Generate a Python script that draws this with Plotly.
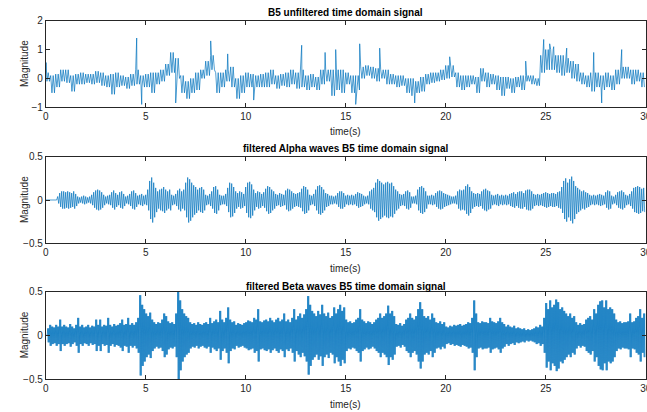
import plotly.graph_objects as go

# ---------------- data ----------------
# Unfiltered signal: band upper / lower level per 0.25 s block (0 .. 29.75 s)
raw_step = 0.25
raw_hi = [0.2, 0.1, 0.15, 0.3, 0.3, 0.1, 0.15, 0.2, 0.15, 0.15,
          0.25, 0.2, 0.1, 0.15, 0.2, 0.1, 0.05, 0.15, 0.3, 0.1,
          0.15, 0.2, 0.2, 0.3, 0.5, 0.9, 0.7, 0.1, -0.1, 0.0,
          0.2, 0.3, 0.6, 0.8, 0.2, 0.2, 0.3, 0.4, 0.0, 0.1,
          0.2, 0.15, 0.1, 0.15, 0.2, 0.3, 0.1, 0.15, 0.2, 0.3,
          0.2, 0.3, 0.1, 0.15, 0.05, 0.3, 0.3, 0.3, 0.3, 0.3,
          0.2, 0.1, 0.1, 0.4, 0.45, 0.4, 0.35, 0.3, 0.3, 0.15,
          0.1, 0.1, 0.0, 0.0, -0.1, 0.05, 0.15, 0.2, 0.2, 0.3,
          0.45, 0.45, 0.2, 0.1, 0.1, 0.1, 0.05, 0.35, 0.2, 0.15,
          0.1, 0.05, 0.05, 0.0, 0.05, 0.1, 0.1, 0.1, 0.0, 0.8,
          1.0, 1.0, 0.8, 0.8, 0.7, 0.6, 0.5, 0.2, 0.1, 0.2,
          0.2, 0.1, 0.2, 0.1, 0.3, 0.4, 0.4, 0.3, 0.3, 0.2]
raw_lo = [-0.1, -0.5, -0.3, -0.1, -0.15, -0.45, -0.2, -0.2, -0.15, -0.2,
          -0.15, -0.25, -0.3, -0.55, -0.3, -0.25, -0.35, -0.25, -0.2, -0.3,
          -0.3, -0.5, -0.2, -0.1, 0.1, 0.2, 0.0, -0.5, -0.7, -0.5,
          -0.4, 0.0, 0.1, 0.3, -0.5, -0.3, -0.1, -0.3, -0.7, -0.5,
          -0.3, -0.3, -0.3, -0.3, -0.3, -0.2, -0.35, -0.25, -0.3, -0.2,
          -0.35, -0.3, -0.4, -0.3, -0.4, -0.2, -0.1, -0.6, -0.4, -0.5,
          -0.2, -0.5, -0.4, 0.0, 0.1, 0.0, -0.1, 0.0, -0.2, -0.2,
          -0.3, -0.25, -0.5, -0.6, -0.5, -0.45, -0.2, -0.15, -0.1, -0.05,
          0.0, 0.05, -0.3, -0.4, -0.3, -0.2, -0.5, -0.1, -0.3, -0.2,
          -0.4, -0.6, -0.35, -0.5, -0.3, -0.4, -0.1, -0.2, -0.25, 0.2,
          0.3, 0.3, 0.2, 0.1, 0.2, 0.0, -0.1, -0.2, -0.3, -0.45,
          -0.3, -0.4, -0.3, -0.4, -0.2, 0.0, 0.0, -0.2, -0.1, -0.3]
# Unfiltered signal: isolated spikes (time in s, value)
raw_spike_t = [0.02, 4.55, 4.8, 6.5, 8.25, 9.1, 10.4, 12.8, 13.97, 14.5,
               15.5, 15.7, 16.7, 18.45, 20.2, 24.0, 24.9, 25.2, 25.4, 26.05,
               27.4, 27.8, 28.8]
raw_spike_v = [0.55, 1.4, -0.9, -0.85, 1.3, 0.85, -0.75, 1.15, 0.9, 1.0,
               -0.9, 1.2, 1.05, -0.85, 0.75, 0.6, 1.35, 1.2, 1.1, 1.05,
               0.9, -0.85, 1.0]

# Filtered alpha waves: oscillation amplitude per 0.1 s (0 .. 29.9 s)
filt_step = 0.1
alpha_amp = [0, 0, 0, 0, 0, 0,
             0.04, 0.08, 0.1, 0.1, 0.09, 0.1, 0.09, 0.08, 0.1, 0.07,
             0.04, 0.03, 0.04, 0.05, 0.04, 0.03, 0.04,
             0.06, 0.09, 0.11, 0.12, 0.11, 0.09, 0.06,
             0.04, 0.05, 0.06, 0.09, 0.11, 0.08, 0.06, 0.09, 0.1, 0.07,
             0.04, 0.05, 0.07, 0.1, 0.11, 0.08, 0.05, 0.06, 0.07, 0.05, 0.06,
             0.12, 0.22, 0.26, 0.2, 0.14, 0.1, 0.12,
             0.13, 0.15, 0.12, 0.1, 0.12, 0.06, 0.05, 0.07,
             0.11, 0.13, 0.1, 0.12,
             0.2, 0.26, 0.24, 0.2, 0.17, 0.15, 0.12, 0.14, 0.15, 0.12,
             0.06, 0.05, 0.07, 0.1, 0.15, 0.16, 0.12,
             0.06, 0.05, 0.05, 0.07, 0.14, 0.2, 0.19, 0.15,
             0.1, 0.08, 0.1, 0.09, 0.07,
             0.15, 0.2, 0.21, 0.18, 0.12, 0.08, 0.1, 0.09, 0.07, 0.09,
             0.13, 0.16, 0.15, 0.12, 0.1, 0.07, 0.06, 0.08, 0.07, 0.06,
             0.11, 0.13, 0.12, 0.1, 0.08, 0.07, 0.08, 0.09,
             0.13, 0.16, 0.15, 0.12, 0.06, 0.05, 0.07,
             0.12, 0.16, 0.17, 0.15, 0.12,
             0.08, 0.07, 0.05, 0.05, 0.04, 0.05, 0.08, 0.1, 0.1, 0.08,
             0.05, 0.06, 0.05, 0.06, 0.05, 0.07, 0.09, 0.08, 0.07,
             0.05, 0.04, 0.05, 0.1, 0.12, 0.14,
             0.2, 0.24, 0.22, 0.2, 0.18,
             0.2, 0.21, 0.19, 0.2, 0.16, 0.12, 0.1, 0.07, 0.06, 0.07,
             0.1, 0.11, 0.09, 0.04, 0.04, 0.05,
             0.12, 0.15, 0.16, 0.14, 0.1, 0.05, 0.05, 0.06, 0.05,
             0.08, 0.1, 0.11, 0.1, 0.08,
             0.07, 0.06, 0.05, 0.04, 0.04, 0.05, 0.1, 0.12, 0.11, 0.12,
             0.16, 0.18, 0.15, 0.1, 0.08, 0.07, 0.08, 0.07,
             0.1, 0.12, 0.13, 0.11, 0.1, 0.06, 0.05, 0.06, 0.07,
             0.05, 0.06, 0.05, 0.06, 0.05, 0.07, 0.08, 0.09, 0.07,
             0.09, 0.1, 0.1, 0.08,
             0.11, 0.12, 0.12, 0.1, 0.07, 0.06, 0.07, 0.06, 0.07,
             0.08, 0.09, 0.08, 0.07, 0.08, 0.08, 0.07, 0.09, 0.1,
             0.15, 0.22, 0.25, 0.2, 0.24, 0.27, 0.22, 0.16, 0.14, 0.12,
             0.1, 0.11, 0.09, 0.08, 0.06, 0.05, 0.06, 0.05,
             0.06, 0.07, 0.06, 0.05,
             0.09, 0.11, 0.1, 0.05, 0.04, 0.06,
             0.09, 0.1, 0.11, 0.09, 0.06, 0.05, 0.07,
             0.1, 0.14, 0.15, 0.16, 0.15, 0.13, 0.14]

# Filtered beta waves: oscillation amplitude per 0.1 s (0 .. 29.9 s)
beta_amp = [0.0, 0.08, 0.12, 0.1, 0.09, 0.12, 0.1, 0.18, 0.1, 0.12,
            0.1, 0.09, 0.13, 0.1, 0.08, 0.12, 0.2, 0.1, 0.12, 0.09,
            0.1, 0.12, 0.09, 0.11, 0.1, 0.18, 0.12, 0.18, 0.1, 0.12,
            0.11, 0.2, 0.12, 0.1, 0.13, 0.11, 0.12, 0.14, 0.18, 0.12,
            0.13, 0.2, 0.12, 0.14, 0.12, 0.15, 0.2, 0.46, 0.35, 0.3,
            0.25, 0.22, 0.26, 0.18, 0.15, 0.13, 0.15, 0.14, 0.18, 0.25,
            0.22, 0.16, 0.14, 0.15, 0.13, 0.25, 0.5, 0.4, 0.3, 0.25,
            0.22, 0.2, 0.15, 0.13, 0.14, 0.12, 0.15, 0.13, 0.12, 0.14,
            0.15, 0.13, 0.2, 0.14, 0.16, 0.18, 0.15, 0.28, 0.18, 0.15,
            0.2, 0.32, 0.18, 0.15, 0.16, 0.12, 0.14, 0.13, 0.12, 0.14,
            0.15, 0.17, 0.16, 0.15, 0.2, 0.18, 0.3, 0.16, 0.15, 0.17,
            0.18, 0.16, 0.2, 0.17, 0.15, 0.18, 0.2, 0.16, 0.18, 0.25,
            0.16, 0.18, 0.15, 0.2, 0.3, 0.18, 0.22, 0.25, 0.2, 0.24,
            0.3, 0.45, 0.35, 0.28, 0.25, 0.22, 0.28, 0.24, 0.35, 0.25,
            0.22, 0.26, 0.2, 0.22, 0.32, 0.25, 0.3, 0.35, 0.28, 0.32,
            0.18, 0.15, 0.16, 0.14, 0.15, 0.18, 0.2, 0.3, 0.18, 0.16,
            0.14, 0.16, 0.15, 0.13, 0.15, 0.18, 0.2, 0.25, 0.2, 0.22,
            0.25, 0.34, 0.25, 0.28, 0.22, 0.13, 0.12, 0.14, 0.11, 0.13,
            0.18, 0.2, 0.25, 0.2, 0.18, 0.22, 0.3, 0.38, 0.3, 0.22,
            0.2, 0.22, 0.18, 0.25, 0.2, 0.15, 0.14, 0.16, 0.13, 0.15,
            0.1, 0.09, 0.11, 0.1, 0.12, 0.11, 0.12, 0.13, 0.11, 0.12,
            0.13, 0.15, 0.14, 0.2, 0.4, 0.25, 0.15, 0.14, 0.16, 0.15,
            0.15, 0.14, 0.2, 0.16, 0.15, 0.14, 0.16, 0.2, 0.15, 0.13,
            0.1, 0.12, 0.1, 0.09, 0.11, 0.08, 0.09, 0.08, 0.07, 0.08,
            0.06, 0.07, 0.06, 0.07, 0.08, 0.1, 0.09, 0.12, 0.1, 0.2,
            0.37, 0.3, 0.4, 0.32, 0.35, 0.41, 0.38, 0.3, 0.32, 0.28,
            0.25, 0.22, 0.25, 0.2, 0.22, 0.15, 0.12, 0.14, 0.12, 0.13,
            0.18, 0.2, 0.22, 0.18, 0.3, 0.25, 0.35, 0.39, 0.4, 0.32,
            0.4, 0.3, 0.32, 0.3, 0.25, 0.18, 0.15, 0.16, 0.14, 0.15,
            0.15, 0.16, 0.25, 0.15, 0.16, 0.2, 0.22, 0.3, 0.2, 0.25]

x_ticks = [0, 5, 10, 15, 20, 25, 30]
raw_yticks = [-1, 0, 1, 2]
filt_yticks = [-0.5, 0, 0.5]
titles = ["B5 unfiltered time domain signal",
          "filtered Alpha waves B5 time domain signal",
          "filtered Beta waves B5 time domain signal"]
x_label = "time(s)"
y_label = "Magnitude"

# ---------------- build traces ----------------
pts = []
for i, (h, l) in enumerate(zip(raw_hi, raw_lo)):
    for k in range(4):
        pts.append((i * raw_step + k * raw_step / 4, h if k % 2 == 0 else l))
pts += list(zip(raw_spike_t, raw_spike_v))
pts.sort(key=lambda p: p[0])
raw_t = [p[0] for p in pts]
raw_y = [p[1] for p in pts]

alpha_t, alpha_y = [], []
for i, a in enumerate(alpha_amp):
    alpha_t += [i * filt_step, i * filt_step + filt_step / 2]
    alpha_y += [a, -a]

beta_t, beta_y = [], []
for i, a in enumerate(beta_amp):
    for k in range(4):
        beta_t.append(i * filt_step + k * filt_step / 4)
        beta_y.append(a if k % 2 == 0 else -a)

BLUE = "#0072BD"
AX = "#262626"
FONT = "Liberation Sans, Arial, sans-serif"

fig = go.Figure()
fig.add_trace(go.Scatter(x=raw_t, y=raw_y, mode="lines", line=dict(color=BLUE, width=0.7),
                         xaxis="x", yaxis="y", showlegend=False))
fig.add_trace(go.Scatter(x=alpha_t, y=alpha_y, mode="lines", line=dict(color=BLUE, width=0.7),
                         xaxis="x2", yaxis="y2", showlegend=False))
fig.add_trace(go.Scatter(x=beta_t, y=beta_y, mode="lines", line=dict(color=BLUE, width=0.7),
                         xaxis="x3", yaxis="y3", showlegend=False))

W, H = 647, 412
x0, x1 = 45.7 / W, 645.7 / W
panels = [(20.7, 107.3), (156.7, 243.3), (291.7, 379.0)]


def ax_common():
    return dict(showline=True, linecolor=AX, linewidth=0.8, mirror="ticks",
                ticks="inside", ticklen=4, tickcolor=AX, tickwidth=0.8,
                showgrid=False, zeroline=False, automargin=False,
                ticklabeloverflow="allow",
                tickfont=dict(family=FONT, size=10, color=AX))


layout = dict(width=W, height=H, margin=dict(l=0, r=0, t=0, b=0, autoexpand=False),
              paper_bgcolor="white", plot_bgcolor="white", showlegend=False)
yranges = [(-1, 2), (-0.5, 0.5), (-0.5, 0.5)]
yticks = [raw_yticks, filt_yticks, filt_yticks]
for n, (top, bot) in enumerate(panels):
    sfx = "" if n == 0 else str(n + 1)
    xa = ax_common()
    xa.update(domain=[x0, x1], range=[0, 30], tickvals=x_ticks,
              anchor="y" + sfx)
    ya = ax_common()
    ya.update(domain=[(H - bot) / H, (H - top) / H], range=list(yranges[n]),
              tickvals=yticks[n], anchor="x" + sfx)
    layout["xaxis" + sfx] = xa
    layout["yaxis" + sfx] = ya

fig.update_layout(**layout)

title_y = [13, 149, 286]
xlab_y = [131, 268, 404]
for n, (top, bot) in enumerate(panels):
    fig.add_annotation(text="<b>" + titles[n] + "</b>", xref="paper", yref="paper",
                       x=(x0 + x1) / 2, y=(H - title_y[n]) / H, showarrow=False,
                       xanchor="center", yanchor="middle",
                       font=dict(family=FONT, size=10, color="black"))
    fig.add_annotation(text=x_label, xref="paper", yref="paper",
                       x=(x0 + x1) / 2, y=(H - xlab_y[n]) / H, showarrow=False,
                       xanchor="center", yanchor="middle",
                       font=dict(family=FONT, size=10, color=AX))
    fig.add_annotation(text=y_label, xref="paper", yref="paper",
                       x=24 / W, y=(H - (top + bot) / 2) / H, showarrow=False,
                       textangle=-90, xanchor="center", yanchor="middle",
                       font=dict(family=FONT, size=10, color=AX))

fig.write_html("out.html", config={"displayModeBar": False},
               post_script="document.body.style.margin='0px';document.body.style.overflow='hidden';")
